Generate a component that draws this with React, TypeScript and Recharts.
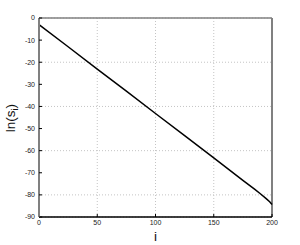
import {CartesianGrid, Line, LineChart, ReferenceLine, XAxis, YAxis} from "recharts";

const iValues = [0, 25, 50, 75, 100, 125, 150, 175, 185, 190, 195, 198, 200];
const lnS = [-3, -13, -23.1, -33.1, -43.2, -53.2, -63.3, -73.4, -77.4, -79.5, -81.7, -83.1, -84.3];
const xTicks = [0, 50, 100, 150, 200];
const yTicks = [-90, -80, -70, -60, -50, -40, -30, -20, -10, 0];

const data = iValues.map((i, k) => ({i, v: lnS[k]}));

const font = "'Liberation Sans', Arial, sans-serif";

function YLabel() {
    const x = 15, y = 118;
    return (
        <text x={x} y={y} transform={`rotate(-90, ${x}, ${y})`} textAnchor="middle"
              fontFamily={font} fontSize={13.5} fill="#111">
            ln(s<tspan fontSize={9} dy={3}>i</tspan><tspan dy={-3}>)</tspan>
        </text>
    );
}

export default function App() {
    return (
        <div style={{position: "absolute", left: 0, top: 0, background: "#fff"}}>
            <LineChart width={300} height={245} data={data}
                       margin={{top: 18, right: 28, left: 0, bottom: 0}}>
                <CartesianGrid stroke="#c4c4c4" strokeDasharray="1 2" />
                <XAxis dataKey="i" type="number" domain={[0, 200]} ticks={xTicks} height={28}
                       axisLine={{stroke: "#000", strokeWidth: 1.5}} tickLine={{stroke: "#000"}}
                       tickSize={-3} tickMargin={6}
                       tick={{fontSize: 7, fontFamily: font, fill: "#222"}}
                       label={{value: "i", position: "insideBottom", offset: 4, fontSize: 13.5,
                           fontFamily: font, fill: "#111"}} />
                <YAxis type="number" domain={[-90, 0]} ticks={yTicks} width={39}
                       axisLine={{stroke: "#808080", strokeWidth: 2}} tickLine={{stroke: "#000"}}
                       tickSize={-3} tickMargin={7}
                       tick={{fontSize: 7, fontFamily: font, fill: "#222"}}
                       label={{content: () => <YLabel />}} />
                <ReferenceLine y={0} stroke="#808080" strokeWidth={1.5} />
                <ReferenceLine x={200} stroke="#808080" strokeWidth={2} />
                <Line dataKey="v" stroke="#000" strokeWidth={1.5} dot={false} isAnimationActive={false} />
            </LineChart>
        </div>
    );
}
